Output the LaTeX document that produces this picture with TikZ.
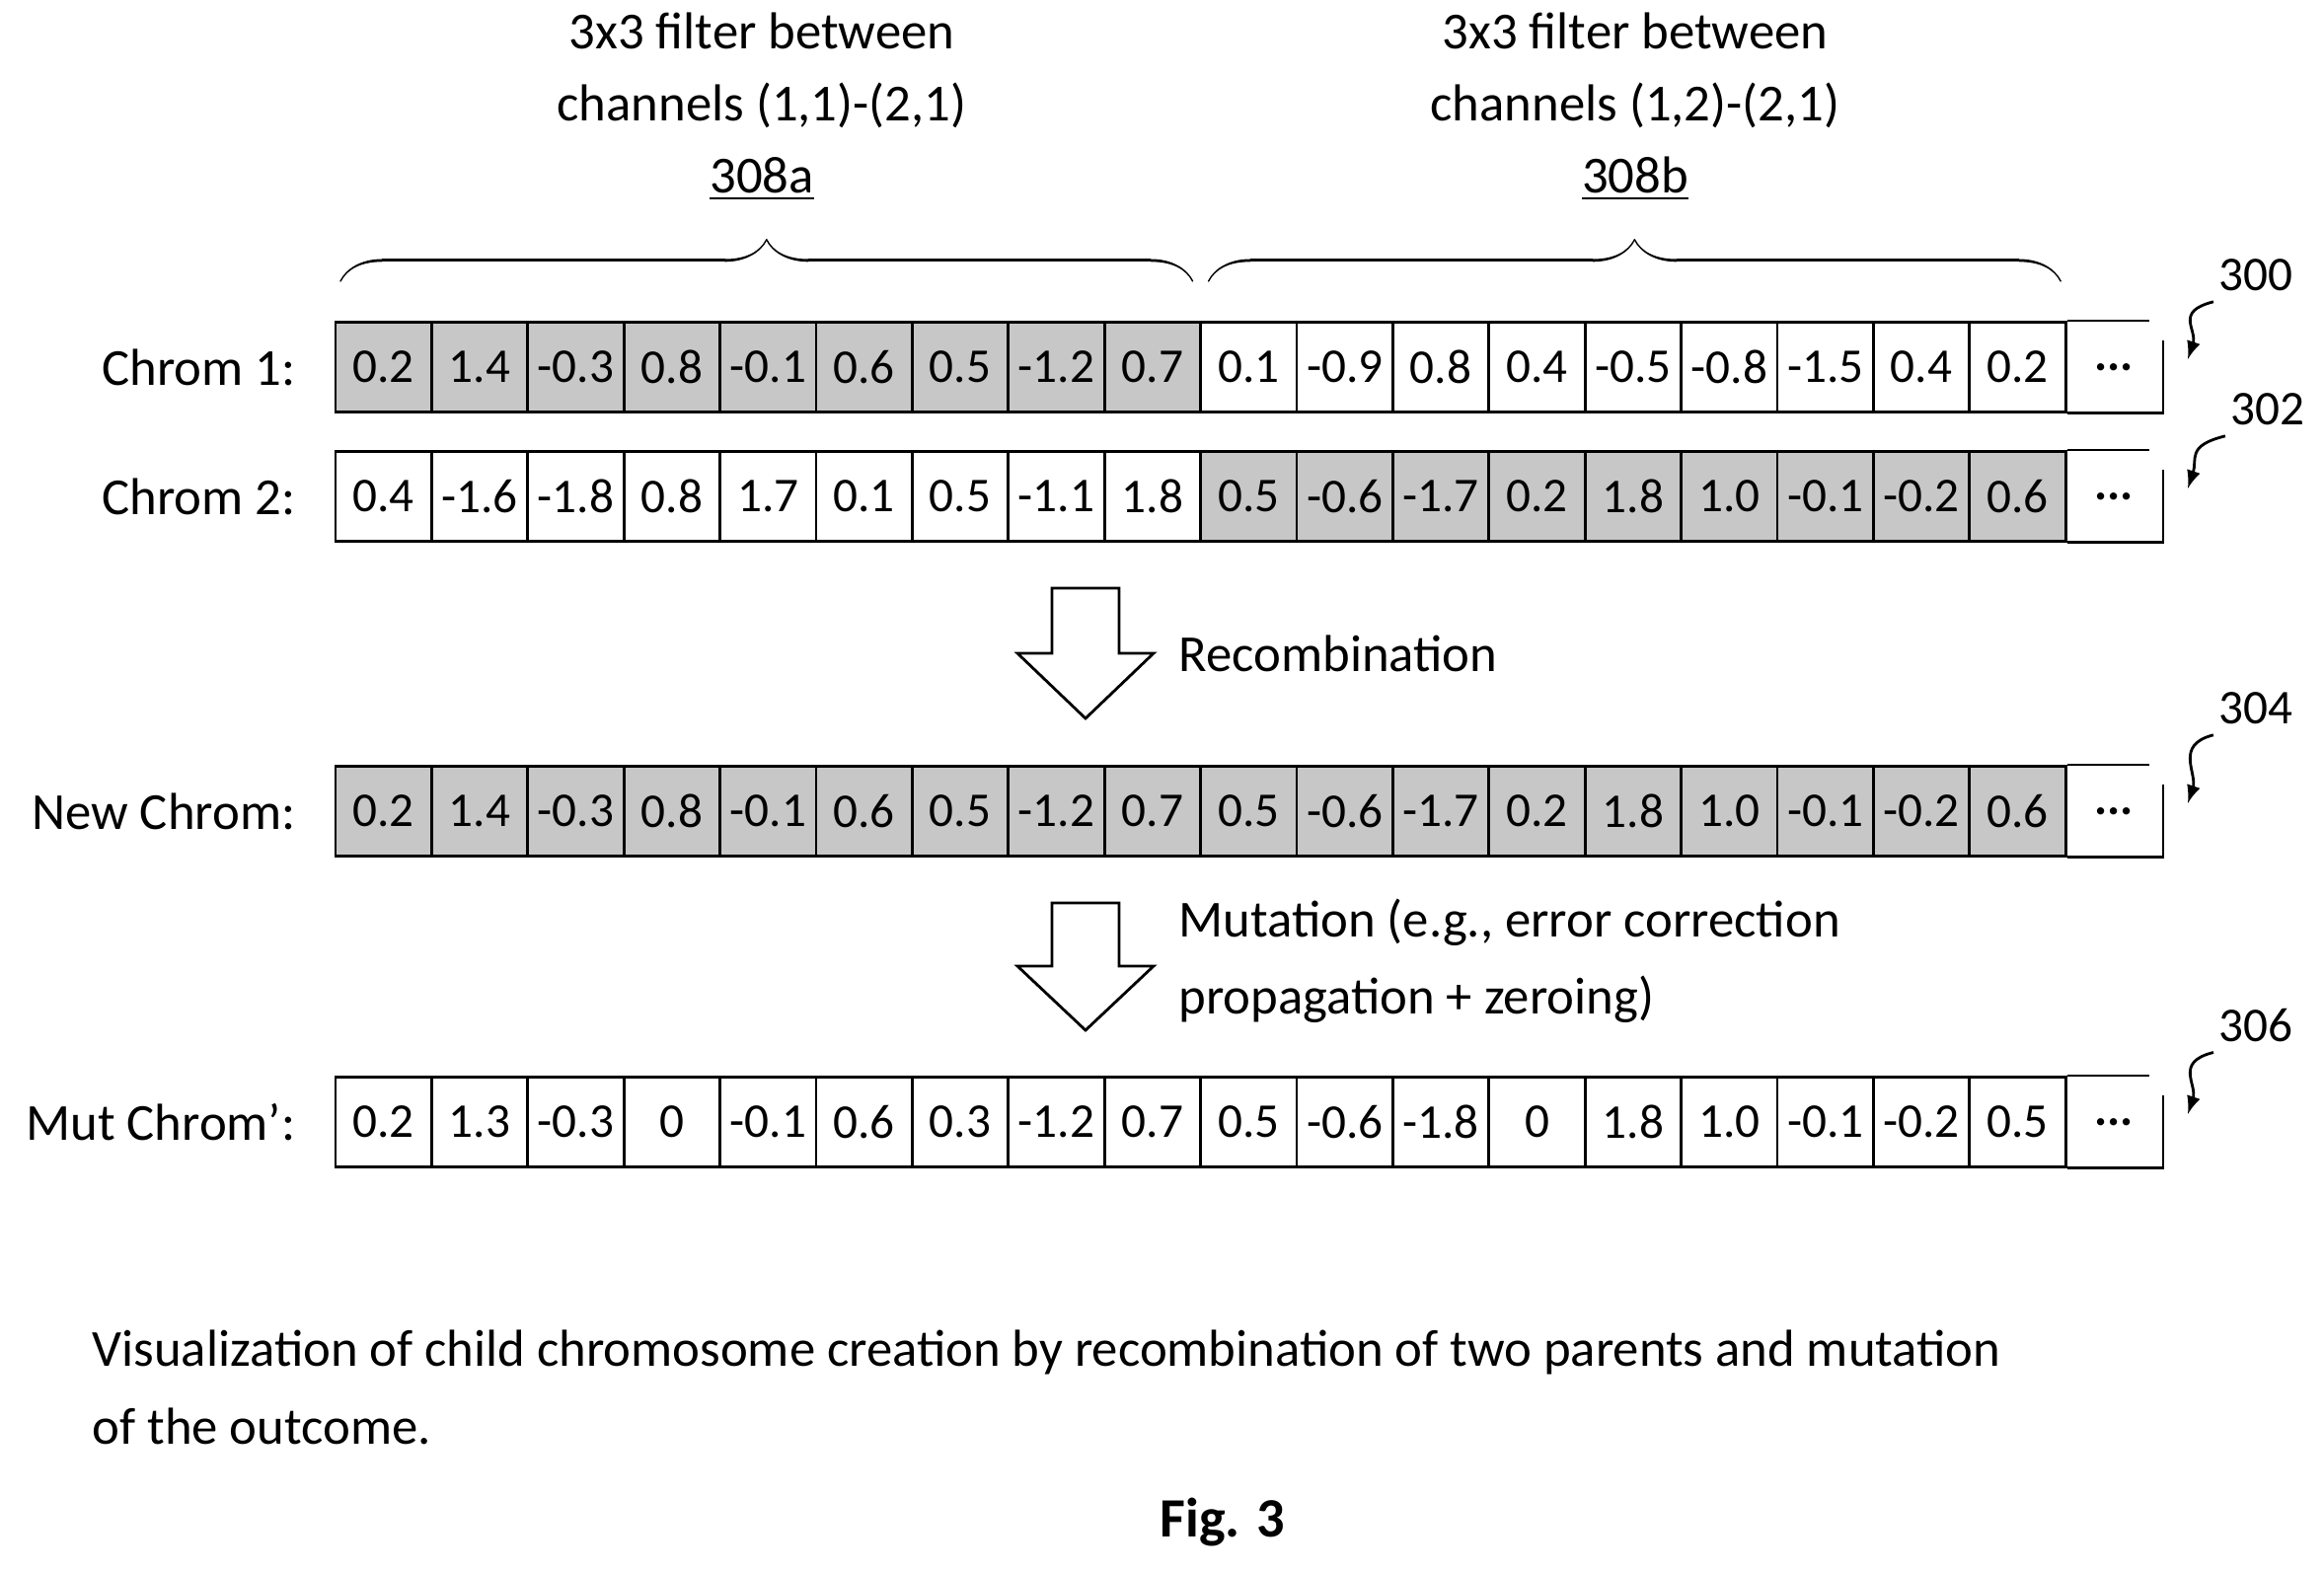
\documentclass[tikz,border=0pt]{standalone}
\usepackage{fontspec}
\setmainfont{Carlito}
\usetikzlibrary{arrows,calc,shapes,decorations.pathreplacing,calligraphy}
\tikzset{>=latex}
\tikzstyle{gene}=[rectangle,draw=black,thick,minimum width=9.74mm,minimum height=9.1mm,inner sep=0pt,font=\fontsize{14}{16}\selectfont]
\tikzstyle{geneshade}=[gene,fill=black!22]
\tikzstyle{rowlabel}=[anchor=east,inner sep=0pt,font=\fontsize{15}{18}\selectfont]
\tikzstyle{refnum}=[inner sep=0pt,font=\fontsize{14}{17}\selectfont]
\tikzstyle{plain}=[inner sep=0pt,font=\fontsize{15}{18}\selectfont]
\tikzstyle{blockarrow}=[draw=black,thick,fill=white]

\begin{document}
\begin{tikzpicture}[x=0.1mm,y=-0.1mm]
	\def \cw {97.4};
	\def \xl {340};
	\useasboundingbox (0,0) rectangle (2355,1593);

	% filter braces
	\node[plain,align=center] (filtA) at (772,108) {3x3 filter between\\[1mm]channels (1,1)-(2,1)\\[1mm]\underline{308a}};
	\node[plain,align=center] (filtB) at (1657,108) {3x3 filter between\\[1mm]channels (1,2)-(2,1)\\[1mm]\underline{308b}};
	\draw[thick,decorate,decoration={calligraphic brace,amplitude=12pt}] (\xl+5,285) -- (\xl+9*\cw-8,285);
	\draw[thick,decorate,decoration={calligraphic brace,amplitude=12pt}] (\xl+9*\cw+8,285) -- (\xl+18*\cw-5,285);

	% chromosome rows
	\foreach \r/\y/\lab/\vals/\shA/\shB in {
		1/372/{Chrom 1:}/{0.2,1.4,-0.3,0.8,-0.1,0.6,0.5,-1.2,0.7,0.1,-0.9,0.8,0.4,-0.5,-0.8,-1.5,0.4,0.2}/1/0,
		2/503/{Chrom 2:}/{0.4,-1.6,-1.8,0.8,1.7,0.1,0.5,-1.1,1.8,0.5,-0.6,-1.7,0.2,1.8,1.0,-0.1,-0.2,0.6}/0/1,
		3/822/{New Chrom:}/{0.2,1.4,-0.3,0.8,-0.1,0.6,0.5,-1.2,0.7,0.5,-0.6,-1.7,0.2,1.8,1.0,-0.1,-0.2,0.6}/1/1,
		4/1137/{Mut Chrom':}/{0.2,1.3,-0.3,0,-0.1,0.6,0.3,-1.2,0.7,0.5,-0.6,-1.8,0,1.8,1.0,-0.1,-0.2,0.5}/0/0} {
		\node[rowlabel] (lab\r) at (300,\y) {\lab};
		\foreach \v [count=\i] in \vals {
			\pgfmathtruncatemacro{\shade}{\i<10 ? \shA : \shB};
			\ifnum\shade=1
				\node[geneshade] (c\r-\i) at (\xl+\cw*\i-\cw/2,\y) {\v};
			\else
				\node[gene] (c\r-\i) at (\xl+\cw*\i-\cw/2,\y) {\v};
			\fi
		};
		\node[gene,draw=none] (c\r-19) at (\xl+\cw*18.5,\y) {\textbf{...}};
		\draw[thick] (c\r-18.north east) -- ($(c\r-19.north east)+(-14,0)$);
		\draw[thick] ($(c\r-19.north east)+(0,20)$) -- (c\r-19.south east) -- (c\r-18.south east);
	};

	% reference numerals
	\node[refnum] (n300) at (2286,279) {300};
	\node[refnum] (n302) at (2298,415) {302};
	\node[refnum] (n304) at (2286,718) {304};
	\node[refnum] (n306) at (2286,1039) {306};
	\foreach \n/\r in {300/1,302/2,304/3,306/4} {
		\coordinate (tip\n) at ($(c\r-19.east)+(25,-8)$);
		\draw[->,thick] ($(n\n.south west)+(-5,10)$) .. controls +(-40,10) and +(10,-30) .. (tip\n);
	};

	% block arrows
	\draw[blockarrow] (1066,596) -- (1134,596) -- (1134,662) -- (1169,662) -- (1100,728) -- (1031,662) -- (1066,662) -- cycle;
	\draw[blockarrow] (1066,915) -- (1134,915) -- (1134,979) -- (1169,979) -- (1100,1044) -- (1031,979) -- (1066,979) -- cycle;
	\node[plain,anchor=west] (recomb) at (1194,662) {Recombination};
	\node[plain,anchor=west,align=left] (mut) at (1194,974) {Mutation (e.g., error correction\\[1.5mm]propagation + zeroing)};

	% caption
	\node[plain,anchor=west,align=left] (caption) at (93,1406) {Visualization of child chromosome creation by recombination of two parents and mutation\\[1.5mm]of the outcome.};
	\node[plain,font=\fontsize{16}{19}\selectfont\bfseries] (fig) at (1239,1543) {Fig. 3};
\end{tikzpicture}
\end{document}
